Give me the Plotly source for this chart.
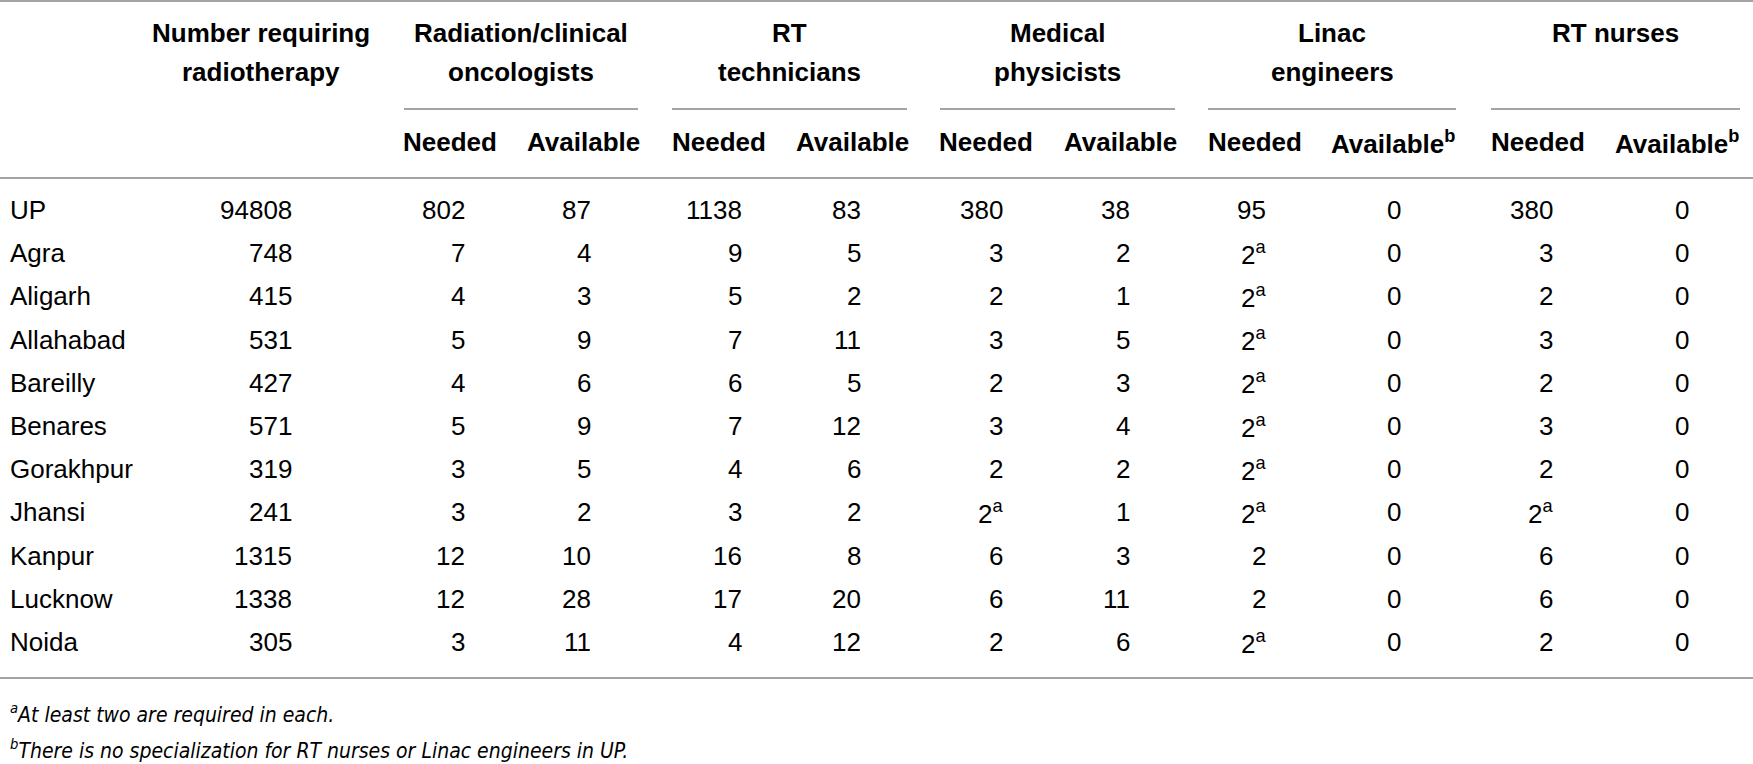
import plotly.graph_objects as go

# table data
districts = ["UP", "Agra", "Aligarh", "Allahabad", "Bareilly", "Benares",
             "Gorakhpur", "Jhansi", "Kanpur", "Lucknow", "Noida"]
need_radiotherapy = [94808, 748, 415, 531, 427, 571, 319, 241, 1315, 1338, 305]
onc_needed = [802, 7, 4, 5, 4, 5, 3, 3, 12, 12, 3]
onc_available = [87, 4, 3, 9, 6, 9, 5, 2, 10, 28, 11]
tech_needed = [1138, 9, 5, 7, 6, 7, 4, 3, 16, 17, 4]
tech_available = [83, 5, 2, 11, 5, 12, 6, 2, 8, 20, 12]
phys_needed = [380, 3, 2, 3, 2, 3, 2, 2, 6, 6, 2]
phys_needed_note = ["", "", "", "", "", "", "", "a", "", "", ""]
phys_available = [38, 2, 1, 5, 3, 4, 2, 1, 3, 11, 6]
linac_needed = [95, 2, 2, 2, 2, 2, 2, 2, 2, 2, 2]
linac_needed_note = ["", "a", "a", "a", "a", "a", "a", "a", "", "", "a"]
linac_available = [0, 0, 0, 0, 0, 0, 0, 0, 0, 0, 0]
nurse_needed = [380, 3, 2, 3, 2, 3, 2, 2, 6, 6, 2]
nurse_needed_note = ["", "", "", "", "", "", "", "a", "", "", ""]
nurse_available = [0, 0, 0, 0, 0, 0, 0, 0, 0, 0, 0]

stub_header = ["Number requiring", "radiotherapy"]
groups = [["Radiation/clinical", "oncologists"], ["RT", "technicians"],
          ["Medical", "physicists"], ["Linac", "engineers"], ["RT nurses"]]
sub_labels = ["Needed", "Available", "Needed", "Available", "Needed", "Available",
              "Needed", "Available<sup>b</sup>", "Needed", "Available<sup>b</sup>"]
footnotes = ["<sup>a</sup>At least two are required in each.",
             "<sup>b</sup>There is no specialization for RT nurses or Linac engineers in UP."]

# layout (pixels)
W, H = 1753, 764
FONT = "Liberation Sans, Arial, sans-serif"
NARROW = "Liberation Sans Narrow, DejaVu Sans Condensed, Arial Narrow, sans-serif"
LINE = "#a3a3a3"
head_y = [33, 72]
row_y0, row_step = 210, 43.2
group_spans = [(404, 638), (672, 907), (940, 1175), (1208, 1456), (1491, 1740)]
sub_centers = [450, 583, 719, 852, 986, 1120, 1255, 1393, 1538, 1677]
value_right = [294, 467, 593, 744, 863, 1005, 1132, 1268, 1403, 1555, 1691]

columns = [
    (need_radiotherapy, None),
    (onc_needed, None), (onc_available, None),
    (tech_needed, None), (tech_available, None),
    (phys_needed, phys_needed_note), (phys_available, None),
    (linac_needed, linac_needed_note), (linac_available, None),
    (nurse_needed, nurse_needed_note), (nurse_available, None),
]

fig = go.Figure()
fig.add_trace(go.Scatter(x=[0, W], y=[0, H], mode="markers",
                         marker=dict(opacity=0), hoverinfo="skip", showlegend=False))

ann = []


def txt(x, y, s, anchor="center", size=26, family=FONT):
    ann.append(dict(x=x, y=y, xref="x", yref="y", text=s, showarrow=False,
                    xanchor=anchor, yanchor="middle",
                    font=dict(family=family, size=size, color="black")))


# header
for k, line in enumerate(stub_header):
    txt(261, head_y[k], "<b>" + line + "</b>")
for (a, b), g in zip(group_spans, groups):
    for k, line in enumerate(g):
        txt((a + b) / 2, head_y[k], "<b>" + line + "</b>")
for cx, s in zip(sub_centers, sub_labels):
    txt(cx, 142, "<b>" + s + "</b>")

# body
for i, name in enumerate(districts):
    y = row_y0 + i * row_step
    txt(8, y, name, anchor="left")
    for (vals, notes), xr in zip(columns, value_right):
        s = str(vals[i])
        if notes and notes[i]:
            s += "<sup>" + notes[i] + "</sup>"
        txt(xr, y, s, anchor="right")

# footnotes
txt(8, 713, "<i>" + footnotes[0] + "</i>", anchor="left", size=21, family=NARROW)
txt(8, 749, "<i>" + footnotes[1] + "</i>", anchor="left", size=21, family=NARROW)

# rules
shapes = []
for yy in [1, 178, 678]:
    shapes.append(dict(type="line", xref="x", yref="y", x0=0, x1=W, y0=yy, y1=yy,
                       line=dict(color=LINE, width=2)))
for a, b in group_spans:
    shapes.append(dict(type="line", xref="x", yref="y", x0=a, x1=b, y0=109, y1=109,
                       line=dict(color=LINE, width=2)))

fig.update_layout(
    width=W, height=H,
    margin=dict(l=0, r=0, t=0, b=0),
    paper_bgcolor="white", plot_bgcolor="white",
    xaxis=dict(range=[0, W], visible=False, fixedrange=True),
    yaxis=dict(range=[H, 0], visible=False, fixedrange=True),
    annotations=ann, shapes=shapes,
    showlegend=False,
)

fig.write_html("out.html", config={"displayModeBar": False},
               post_script="document.body.style.margin='0px';document.body.style.overflow='hidden';")
